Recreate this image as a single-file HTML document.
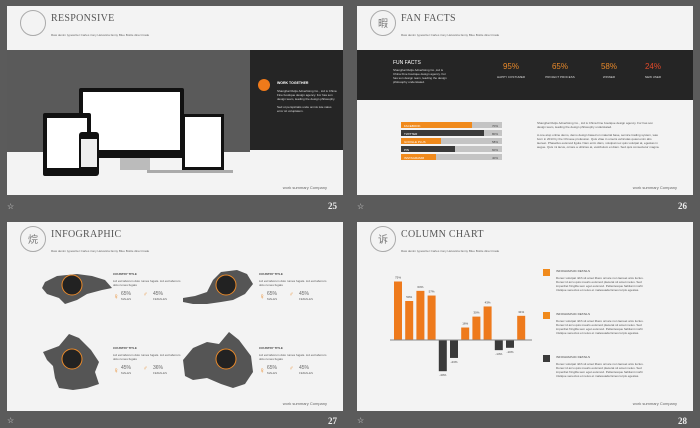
<!DOCTYPE html>
<html><head><meta charset="utf-8">
<style>
*{margin:0;padding:0;box-sizing:border-box}
body{width:700px;height:428px;background:#5b5b5b;position:relative;overflow:hidden;font-family:"Liberation Sans",sans-serif}
.abs{position:absolute}
.slide{position:absolute;width:336px;height:189px;background:#f3f3f3;overflow:hidden}
.circ{position:absolute;left:13px;top:4px;width:26px;height:26px;border:1px solid #aaa;border-radius:50%;font:10px "Noto Sans CJK SC",sans-serif;color:#777;text-align:center;line-height:24px}
.title{position:absolute;left:44px;top:7px;font:10px "Liberation Serif",serif;color:#555;letter-spacing:.3px}
.sub{position:absolute;left:44px;top:27px;font-size:3px;color:#666}
.foot{position:absolute;right:16px;top:179px;font-size:4px;color:#666}
.num{position:absolute;color:#eee;font:bold 9px "Liberation Serif",serif}
.star{position:absolute;color:#ddd;font-size:8px}
.tiny{font-size:3px;color:#555;line-height:4px}
</style></head><body>

<!-- slide 25 -->
<div class="slide" style="left:7px;top:6px">
<div class="circ"></div>
<div class="title">RESPONSIVE</div>
<div class="sub">Raw denim typewriter Carles irony Helvetica fanny Blue Bottle direct trade</div>
<div class="abs" style="left:0;top:44px;width:243px;height:102px;background:#5a5a5a"></div>
<div class="abs" style="left:243px;top:44px;width:93px;height:100px;background:#252525"></div>
<div class="abs" style="left:251px;top:73px;width:12px;height:12px;border-radius:50%;background:#ef7a1a"></div>
<div class="abs" style="left:270px;top:75px;font-size:3.5px;color:#fff;font-weight:bold">WORK TOGETHER</div>
<div class="abs tiny" style="left:270px;top:83px;width:60px;color:#ddd">Shanghai Ruijiu Advertising Co., Ltd is China Fine boutique design agency. For has son design team, leading the design philosophy.<br><br>Sed ut perspiciatis unde omnis iste natus error sit voluptatem.</div>
<!-- devices -->
<div class="abs" style="left:72px;top:82px;width:105px;height:70px;background:#111;border-radius:2px"><div class="abs" style="left:4px;top:4px;width:97px;height:58px;background:#fff"></div></div>
<div class="abs" style="left:113px;top:152px;width:30px;height:12px;background:#bbb"></div>
<div class="abs" style="left:175px;top:108px;width:42px;height:56px;background:#111"><div class="abs" style="left:3px;top:3px;width:36px;height:50px;background:#fff"></div></div>
<div class="abs" style="left:140px;top:164px;width:86px;height:3px;background:#aaa"></div>
<div class="abs" style="left:36px;top:107px;width:48px;height:63px;background:#111;border-radius:2px"><div class="abs" style="left:4px;top:5px;width:40px;height:50px;background:#fff"></div></div>
<div class="abs" style="left:72px;top:126px;width:20px;height:44px;background:#111;border-radius:3px"><div class="abs" style="left:2px;top:7px;width:16px;height:28px;background:#eee"></div></div>
<div class="foot">work summary Company</div>
</div>
<div class="star" style="left:7px;top:202px">☆</div>
<div class="num" style="left:328px;top:201px">25</div>

<!-- slide 26 -->
<div class="slide" style="left:357px;top:6px">
<div class="circ">暇</div>
<div class="title">FAN FACTS</div>
<div class="sub">Raw denim typewriter Carles irony Helvetica fanny Blue Bottle direct trade</div>
<div class="abs" style="left:0;top:44px;width:336px;height:50px;background:#252525"></div>
<div class="abs" style="left:36px;top:54px;font-size:5px;color:#fff">FUN FACTS</div>
<div class="abs tiny" style="left:36px;top:62px;width:58px;color:#ddd">Shanghai Ruijiu Advertising Co.,Ltd is China Fine boutique design agency. For has son design team, leading the design philosophy understated.</div>
<div class="abs" style="left:136px;top:56px;font-size:8px;color:#e8892a;width:36px;text-align:center">95%</div>
<div class="abs" style="left:185px;top:56px;font-size:8px;color:#e8892a;width:36px;text-align:center">65%</div>
<div class="abs" style="left:234px;top:56px;font-size:8px;color:#e8892a;width:36px;text-align:center">58%</div>
<div class="abs" style="left:278px;top:56px;font-size:8px;color:#e24a2a;width:36px;text-align:center">24%</div>
<div class="abs" style="left:130px;top:69px;font-size:3px;color:#ddd;width:48px;text-align:center">HAPPY COSTUMER</div>
<div class="abs" style="left:179px;top:69px;font-size:3px;color:#ddd;width:48px;text-align:center">PROJECT PROCESS</div>
<div class="abs" style="left:228px;top:69px;font-size:3px;color:#ddd;width:48px;text-align:center">WINNER</div>
<div class="abs" style="left:272px;top:69px;font-size:3px;color:#ddd;width:48px;text-align:center">NEW USER</div>
<div id="sbars"></div>
<div class="abs tiny" style="left:180px;top:115px;width:125px">Shanghai Ruijiu Advertising Co., Ltd is China Fine boutique design agency. For has son design team, leading the design philosophy understated.<br><br>A one-stop online demo, demo design based on material base, service trading system, was born in 2013 by the Chinese profession. Quis vitae in umeris vehiculas quasi enim abs laoreet. Phasellus euismod ligula. Nam enim diam, volutpat nec quis volutpat at, egestas in augue. Quis mi lacus, ornare a ultricies at, vestibulum et diam. Sed quis consectetur magna.</div>
<div class="foot">work summary Company</div>
</div>
<div class="star" style="left:357px;top:202px">☆</div>
<div class="num" style="left:678px;top:201px">26</div>

<!-- slide 27 -->
<div class="slide" style="left:7px;top:222px">
<div class="circ">烷</div>
<div class="title">INFOGRAPHIC</div>
<div class="sub">Raw denim typewriter Carles irony Helvetica fanny Blue Bottle direct trade</div>
<svg class="abs" style="left:0;top:0" width="336" height="189">
<polygon points="38,60 50,54 70,52 85,54 98,58 105,66 95,68 80,72 70,78 58,82 52,76 40,72 35,66" fill="#555"/>
<polygon points="176,76 188,74 200,70 206,58 214,50 230,48 240,52 246,62 238,72 226,78 214,80 200,82 186,82 176,80" fill="#555"/>
<polygon points="36,130 52,124 62,112 72,116 84,128 92,140 88,150 92,162 80,166 66,168 52,166 48,156 46,144 40,138" fill="#555"/>
<polygon points="176,138 186,126 200,120 212,122 222,110 232,118 244,134 246,150 238,162 226,166 214,162 200,156 186,158 178,154" fill="#555"/>
<g fill="#222" stroke="#e8892a" stroke-width="1"><circle cx="65" cy="63" r="10"/><circle cx="219" cy="63" r="10"/><circle cx="65" cy="137" r="10"/><circle cx="219" cy="137" r="10"/></g>
</svg>
<div id="info"></div>
<div class="foot">work summary Company</div>
</div>
<div class="star" style="left:7px;top:418px;top:416px">☆</div>
<div class="num" style="left:328px;top:416px">27</div>

<!-- slide 28 -->
<div class="slide" style="left:357px;top:222px">
<div class="circ">诉</div>
<div class="title">COLUMN CHART</div>
<div class="sub">Raw denim typewriter Carles irony Helvetica fanny Blue Bottle direct trade</div>
<svg id="chart" class="abs" style="left:0;top:0" width="336" height="189"></svg>
<div id="legend"></div>
<div class="foot">work summary Company</div>
</div>
<div class="star" style="left:357px;top:416px">☆</div>
<div class="num" style="left:678px;top:416px">28</div>

<script>
// social bars (slide 26)
const socialNames=["FACEBOOK","TWITTER","GOOGLE PLUS","PIN","INSTAGRAMM"];
const socialValues=[70,82,40,53,35];
const socialLabels=["70%","80%","58%","60%","40%"];
const socialColors=["#f08a1c","#3a3a3a","#f08a1c","#3a3a3a","#f08a1c"];
const sb=document.getElementById('sbars');
socialNames.forEach((n,i)=>{
  const row=document.createElement('div');
  
  
  row.className='abs';
  row.style.cssText=`left:44px;top:${116+i*8}px;width:101px;height:6px;background:#c4c4c4`;
  const f=document.createElement('div');
  f.className='abs';
  f.style.cssText=`left:0;top:0;height:6px;width:${socialValues[i]}%;background:${socialColors[i]}`;
  row.appendChild(f);
  const t=document.createElement('div');
  t.className='abs';t.textContent=n;
  t.style.cssText='left:3px;top:1.5px;font-size:3px;color:#fff';
  row.appendChild(t);
  const v=document.createElement('div');
  v.className='abs';v.textContent=socialLabels[i];
  v.style.cssText='right:4px;top:1.5px;font-size:3px;color:#444';
  row.appendChild(v);
  sb.appendChild(row);
});

// infographic blocks (slide 27)
const maleVals=["65%","65%","45%","65%"];
const femaleVals=["45%","45%","36%","45%"];
const infoPos=[[106,50],[252,50],[106,124],[252,124]];
const info=document.getElementById('info');
infoPos.forEach((p,i)=>{
  const d=document.createElement('div');
  
  
  d.className='abs';
  d.style.cssText=`left:${p[0]}px;top:${p[1]}px;width:70px`;
  d.innerHTML=`<div style="font-size:3px;font-weight:bold;color:#444">COUNTRY TITLE</div>
  <div class="tiny" style="margin-top:3px">Lid est laborum dolo rumes fugats. Lid est laborum dolo rumes fugats</div>
  <div style="position:relative;height:14px;margin-top:4px">
   <span style="position:absolute;left:0;top:1px;color:#e8892a;font-size:8px">♀</span>
   <span style="position:absolute;left:8px;top:0;color:#666;font-size:5px">${maleVals[i]}</span>
   <span style="position:absolute;left:8px;top:6px;color:#666;font-size:3px">MALES</span>
   <span style="position:absolute;left:30px;top:1px;color:#e8892a;font-size:6px">♂</span>
   <span style="position:absolute;left:40px;top:0;color:#666;font-size:5px">${femaleVals[i]}</span>
   <span style="position:absolute;left:40px;top:6px;color:#666;font-size:3px">FEMALES</span></div>`;
  info.appendChild(d);
});

// column chart (slide 28)
const colValues=[75,50,63,57,-40,-23,16,30,43,-13,-10,31];
const colLabels=["75%","50%","63%","57%","-40%","-23%","16%","30%","43%","-13%","-10%","31%"];
const NS='http://www.w3.org/2000/svg';
const svg=document.getElementById('chart');
const baseY=118, x0=37, step=11.2, bw=8, k=0.78;
const xs=i=>x0+i*step;
const ys=v=>baseY-v*k;
colValues.forEach((v,i)=>{
  const r=document.createElementNS(NS,'rect');
  
  
  r.setAttribute('x',xs(i));r.setAttribute('width',bw);
  r.setAttribute('y',Math.min(ys(v),baseY));r.setAttribute('height',Math.abs(ys(v)-baseY));
  r.setAttribute('fill',v>=0?'#ee7a1c':'#3a3a3a');
  svg.appendChild(r);
  const t=document.createElementNS(NS,'text');
  
  
  t.setAttribute('x',xs(i)+bw/2);
  t.setAttribute('y',v>=0?ys(v)-3:ys(v)+5);
  t.setAttribute('text-anchor','middle');t.setAttribute('font-size','3');t.setAttribute('fill','#444');
  t.textContent=colLabels[i];
  svg.appendChild(t);
});
const ax=document.createElementNS(NS,'line');


ax.setAttribute('x1',33);ax.setAttribute('x2',175);ax.setAttribute('y1',baseY);ax.setAttribute('y2',baseY);
ax.setAttribute('stroke','#888');ax.setAttribute('stroke-width','1');
svg.appendChild(ax);

const legColors=["#f08a1c","#f08a1c","#3a3a3a"];
const lg=document.getElementById('legend');
legColors.forEach((c,i)=>{
  const d=document.createElement('div');
  
  
  d.className='abs';
  d.style.cssText=`left:186px;top:${47+i*43}px;width:110px`;
  d.innerHTML=`<div style="position:absolute;left:0;top:0;width:7px;height:7px;background:${c}"></div>
  <div style="position:absolute;left:13px;top:0;font-size:3px;color:#444">INFOGRAPHIC DETAILS</div>
  <div class="tiny" style="position:absolute;left:13px;top:7px;width:95px">Donec volutpat nibh sit amet libero ornare non laoreet arcu luctus. Donec id arcu quis mauris euismod placerat sit amet metus. Sed imperdiet fringilla sem eget euismod. Pellentesque habitant morbi tristique senectus et netus et malesuada fames turpis egestas.</div>`;
  lg.appendChild(d);
});
</script>
</body></html>
